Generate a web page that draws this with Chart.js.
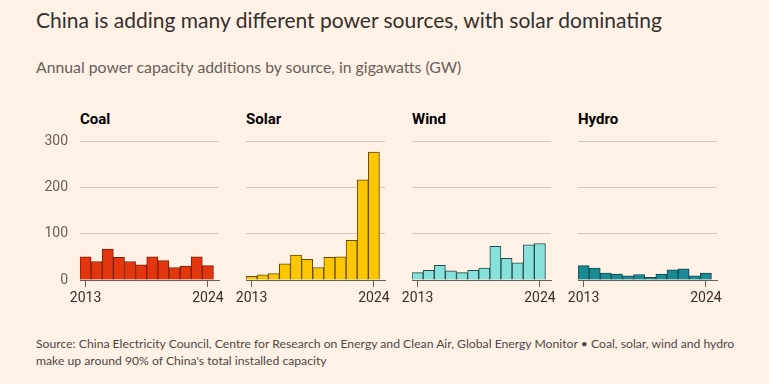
<!DOCTYPE html>
<html>
<head>
<meta charset="utf-8">
<script src="https://cdn.jsdelivr.net/npm/chart.js@4.4.1/dist/chart.umd.min.js"></script>
<style>
  html, body { margin: 0; padding: 0; }
  body { width: 769px; height: 384px; background: #fff1e5; position: relative; overflow: hidden;
         font-family: Lato, "DejaVu Sans Condensed", sans-serif; }
  .title { position: absolute; left: 36px; top: 7px; font-size: 21px; color: #33302e; white-space: nowrap; }
  .subtitle { position: absolute; left: 36px; top: 57px; font-size: 15.8px; color: #66605c; white-space: nowrap; }
  .panel-title { position: absolute; top: 110px; font-family: Roboto, sans-serif; font-weight: bold; font-size: 15px; color: #000; }
  .source { position: absolute; left: 36px; top: 335px; width: 705px; font-size: 12.2px; line-height: 17px; color: #4d4845; }
  .box { position: absolute; top: 121px; width: 203px; height: 190px; }
</style>
</head>
<body>
<div class="title">China is adding many different power sources, with solar dominating</div>
<div class="subtitle">Annual power capacity additions by source, in gigawatts (GW)</div>

<div class="panel-title" style="left:80px">Coal</div>
<div class="panel-title" style="left:246px">Solar</div>
<div class="panel-title" style="left:412px">Wind</div>
<div class="panel-title" style="left:578px">Hydro</div>

<div class="box" style="left:30px"><canvas id="coal"></canvas></div>
<div class="box" style="left:196px"><canvas id="solar"></canvas></div>
<div class="box" style="left:362px"><canvas id="wind"></canvas></div>
<div class="box" style="left:528px"><canvas id="hydro"></canvas></div>

<div class="source">Source: China Electricity Council, Centre for Research on Energy and Clean Air, Global Energy Monitor &bull; Coal, solar, wind and hydro make up around 90% of China's total installed capacity</div>

<script>
var years = [2013, 2014, 2015, 2016, 2017, 2018, 2019, 2020, 2021, 2022, 2023, 2024];
var coal  = [50, 40, 67, 49, 40, 33, 50, 42, 27, 30, 50, 31];
var solar = [8, 11, 14, 35, 54, 45, 27, 49, 50, 86, 217, 277];
var wind  = [16, 21, 32, 20, 16, 21, 26, 73, 47, 37, 76, 79];
var hydro = [31, 26, 15, 13, 9, 12, 6, 13, 22, 24, 9, 15];
var yTicks = [0, 100, 200, 300];
var xTicks = [2013, 2024];

function makeChart(id, values, fill, stroke, showY) {
    var points = years.map(function(y, i) { return {x: y, y: values[i]}; });
    new Chart(document.getElementById(id), {
        type: 'bar',
        data: {
            datasets: [{
                data: points,
                backgroundColor: fill,
                borderColor: stroke,
                borderWidth: 1,
                barPercentage: 1,
                categoryPercentage: 1
            }]
        },
        options: {
            responsive: true,
            maintainAspectRatio: false,
            animation: false,
            // top padding covers the y label padding Chart.js adds itself
            layout: {padding: {top: 20, right: 14, bottom: 0, left: 0}},
            plugins: {legend: {display: false}, tooltip: {enabled: false}},
            scales: {
                x: {
                    type: 'linear',
                    min: 2012.5,
                    max: 2025,
                    offset: false,
                    afterBuildTicks: function(scale) {
                        scale.ticks = xTicks.map(function(v) { return {value: v}; });
                    },
                    afterFit: function(scale) { scale.height = 31; },
                    ticks: {
                        callback: function(v) { return String(v); },
                        color: '#33302e',
                        font: {family: 'Roboto', size: 14},
                        padding: 3,
                        maxRotation: 0
                    },
                    grid: {drawOnChartArea: false, drawTicks: true, tickLength: 7, color: '#66605c', offset: false},
                    border: {display: true, color: '#66605c', width: 1}
                },
                y: {
                    min: 0,
                    max: 300,
                    afterBuildTicks: function(scale) {
                        scale.ticks = yTicks.map(function(v) { return {value: v}; });
                    },
                    afterFit: function(scale) { scale.width = 50; },
                    ticks: {
                        color: showY ? '#66605c' : 'rgba(0,0,0,0)',
                        font: {family: 'Roboto', size: 14},
                        padding: 12
                    },
                    grid: {color: '#d4c9bd', drawTicks: false},
                    border: {display: false}
                }
            }
        }
    });
}

makeChart('coal', coal, '#e3360f', '#7a1e08', true);
makeChart('solar', solar, '#fcc600', '#5e4a00', false);
makeChart('wind', wind, '#88e0da', '#1d4a48', false);
makeChart('hydro', hydro, '#1a8a94', '#0c4a50', false);
</script>
</body>
</html>
